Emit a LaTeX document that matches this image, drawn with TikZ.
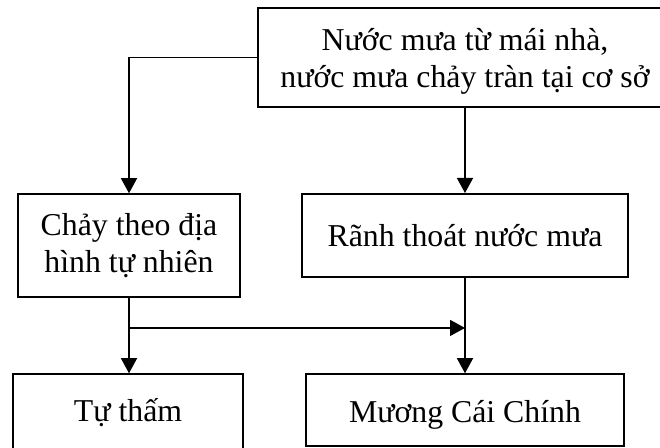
\documentclass[tikz,border=0pt]{standalone}
\usepackage{fontspec}
\setmainfont{Liberation Serif}
\usetikzlibrary{arrows.meta,calc}
\tikzset{
  box/.style={draw,line width=0.75pt,inner sep=0pt,align=center,font=\fontsize{15.9pt}{18.5pt}\selectfont},
  flowline/.style={line width=0.7pt,-{Triangle[width=8pt,length=7.5pt]}}
}
\begin{document}
\begin{tikzpicture}[x=0.5pt,y=-0.5pt]
\useasboundingbox (0,0) rectangle (660,448);
\node[box,minimum width=207pt,minimum height=49.5pt](src) at (465,57.5){\rule{0pt}{15pt}Nước mưa từ mái nhà,\\nước mưa chảy tràn tại cơ sở};
\node[box,minimum width=111pt,minimum height=51.5pt](flow) at (129,245.5){Chảy theo địa\\hình tự nhiên};
\node[box,line width=1pt,minimum width=163pt,minimum height=41.5pt](drain) at (465,235.5){Rãnh thoát nước mưa};
\node[box,text height=13.5pt,text depth=3.5pt,minimum width=115pt,minimum height=38pt](soak) at (128,412){Tự thấm};
\node[box,text height=16.5pt,text depth=3.5pt,minimum width=159pt,minimum height=36pt](canal) at (465,410){Mương Cái Chính};
\draw[flowline](src.west)-|(flow.north);
\draw[flowline](src.south-|drain.north)--(drain.north);
\draw[flowline](flow.south)--(flow.south|-soak.north)coordinate[pos=0.4](j1);
\draw[flowline](drain.south)--(canal.north);
\draw[flowline](j1)--(j1-|drain.south);
\end{tikzpicture}
\end{document}
